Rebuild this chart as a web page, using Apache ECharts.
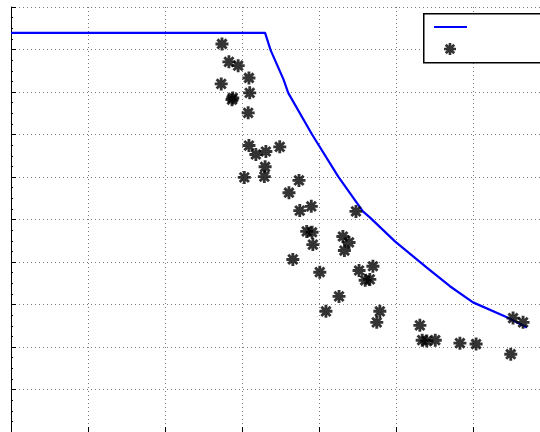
<!DOCTYPE html>
<html>
<head>
<meta charset="utf-8">
<script src="https://cdn.jsdelivr.net/npm/echarts@6/dist/echarts.min.js"></script>
<style>
  html, body { margin: 0; padding: 0; background: #fff; }
  #chart { width: 540px; height: 432px; }
</style>
</head>
<body>
<div id="chart"></div>
<script>
// Envelope curve (x, y)
const envelopeX = [0, 3.30, 3.37, 3.54, 3.60, 3.91, 4.25, 4.57, 4.66, 4.99, 5.40, 5.70, 6.00, 6.44, 6.70];
const envelopeY = [9.39, 9.39, 8.99, 8.29, 7.98, 7.00, 6.01, 5.19, 5.05, 4.48, 3.87, 3.43, 3.05, 2.70, 2.46];

// Measured points (x, y)
const pointsX = [2.74, 2.83, 2.95, 3.09, 2.73, 2.88, 2.87, 3.10, 3.08, 3.09, 3.18, 3.31, 3.49, 3.30, 3.03, 3.29,
                 3.74, 3.61, 3.75, 3.90, 4.48, 3.84, 3.91, 3.92, 4.31, 4.39, 4.33, 3.66, 4.01, 4.52, 4.70, 4.60,
                 4.66, 4.26, 4.09, 4.79, 4.75, 5.31, 5.34, 5.40, 5.51, 5.83, 6.04, 6.52, 6.65, 6.49];
const pointsY = [9.13, 8.71, 8.62, 8.33, 8.19, 7.86, 7.82, 7.98, 7.51, 6.74, 6.53, 6.60, 6.71, 6.24, 5.99, 6.01,
                 5.92, 5.63, 5.21, 5.31, 5.19, 4.72, 4.70, 4.41, 4.60, 4.46, 4.27, 4.06, 3.76, 3.80, 3.90, 3.57,
                 3.59, 3.19, 2.84, 2.84, 2.58, 2.51, 2.16, 2.14, 2.16, 2.09, 2.07, 2.68, 2.58, 1.83];

const seriesNames = ['Envelope', 'Measured'];

// Eight-armed asterisk marker, built from four filled bars of equal winding
const asterisk = 'path://' +
  'M3.9,0L6.1,0L6.1,10L3.9,10Z' +
  'M0,3.9L10,3.9L10,6.1L0,6.1Z' +
  'M0.68,2.24L2.24,0.68L9.32,7.76L7.76,9.32Z' +
  'M0.68,7.76L7.76,0.68L9.32,2.24L2.24,9.32Z';

const chart = echarts.init(document.getElementById('chart'), null, { renderer: 'canvas' });

const gridLine = { show: true, lineStyle: { color: '#7a7a7a', width: 1, type: [1, 3] } };

chart.setOption({
  animation: false,
  backgroundColor: '#ffffff',
  // x range runs past the right edge of the canvas
  grid: { left: 11, top: 7, right: 0, bottom: 0, containLabel: false },
  xAxis: {
    type: 'value', min: 0, max: 6.87, interval: 1,
    axisLine: { show: true, lineStyle: { color: '#000', width: 1 } },
    axisTick: { show: true, inside: true, length: 5, lineStyle: { color: '#000' } },
    axisLabel: { show: false },
    splitLine: gridLine
  },
  yAxis: {
    type: 'value', min: 0, max: 10, interval: 1,
    axisLine: { show: true, lineStyle: { color: '#000', width: 1 } },
    axisTick: { show: true, inside: true, length: 5, lineStyle: { color: '#000' } },
    minorTick: { show: true, splitNumber: 4, length: 2, lineStyle: { color: '#000' } },
    axisLabel: { show: false },
    splitLine: gridLine
  },
  // Legend frame
  graphic: [{
    type: 'rect',
    left: 423, top: 13,
    shape: { width: 140, height: 49 },
    style: { fill: '#fff', stroke: '#000', lineWidth: 1.5 },
    z: 10
  }],
  legend: [
    {
      left: 434, top: 26, padding: 0,
      icon: 'rect', itemWidth: 33, itemHeight: 2,
      formatter: () => '',
      data: [seriesNames[0]],
      z: 11
    },
    {
      left: 444, top: 43, padding: 0,
      itemWidth: 12, itemHeight: 12,
      formatter: () => '',
      data: [seriesNames[1]],
      z: 11
    }
  ],
  series: [
    {
      name: seriesNames[0],
      type: 'line',
      data: envelopeX.map((x, i) => [x, envelopeY[i]]),
      symbol: 'none',
      lineStyle: { color: '#0000ff', width: 2.2 },
      itemStyle: { color: '#0000ff' },
      z: 3
    },
    {
      name: seriesNames[1],
      type: 'scatter',
      data: pointsX.map((x, i) => [x, pointsY[i]]),
      symbol: asterisk,
      symbolSize: 13,
      itemStyle: { color: '#000' },
      z: 4
    }
  ]
});
</script>
</body>
</html>
